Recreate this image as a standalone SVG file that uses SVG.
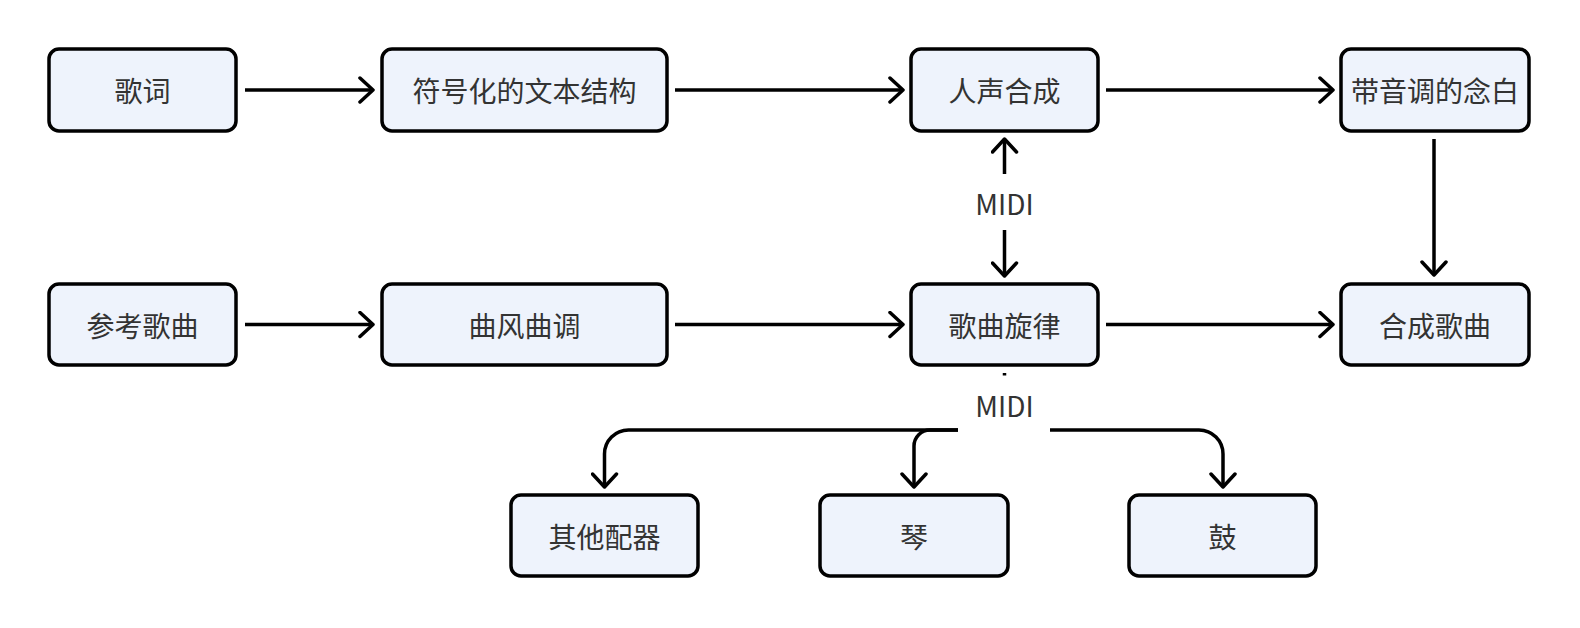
<svg xmlns="http://www.w3.org/2000/svg" width="1580" height="628" viewBox="0 0 1580 628">
<style>
.box{fill:#EEF3FC;stroke:#000;stroke-width:3.5}
.t{font-family:"Noto Sans CJK SC","Noto Sans",sans-serif;font-size:28px;fill:#333;text-anchor:middle;dominant-baseline:central}
.lbl{font-family:"Noto Sans CJK SC","Noto Sans",sans-serif;font-size:28px;fill:#333;text-anchor:middle;dominant-baseline:central}
.c{fill:none;stroke:#000;stroke-width:3.5}
.bg{fill:#fff}
</style>
<defs>
<marker id="ah" viewBox="-16 -14 20 28" markerWidth="20" markerHeight="28" refX="0" refY="0" orient="auto-start-reverse" markerUnits="userSpaceOnUse">
<path d="M-13,-12 L0,0 L-13,12" fill="none" stroke="#000" stroke-width="3.5" stroke-linecap="round" stroke-linejoin="round"/>
</marker>
</defs>
<rect width="1580" height="628" fill="#fff"/>
<g id="connectors">
<path class="c" d="M245,90 H373" marker-end="url(#ah)"/>
<path class="c" d="M675,90 H903" marker-end="url(#ah)"/>
<path class="c" d="M1106,90 H1333" marker-end="url(#ah)"/>
<path class="c" d="M245,324.5 H373" marker-end="url(#ah)"/>
<path class="c" d="M675,324.5 H903" marker-end="url(#ah)"/>
<path class="c" d="M1106,324.5 H1333" marker-end="url(#ah)"/>
<path class="c" d="M1434,139 V275" marker-end="url(#ah)"/>
<path class="c" d="M1004.5,139 V276" marker-start="url(#ah)" marker-end="url(#ah)"/>
<rect class="bg" x="958" y="174" width="92" height="56"/>
<text class="lbl" x="1004.5" y="203">MIDI</text>
<path class="c" d="M1004.5,373 V430 H628.5 A24,24 0 0 0 604.5,454 V487" marker-end="url(#ah)"/>
<path class="c" d="M1004.5,430 H930 A16,16 0 0 0 914,446 V487" marker-end="url(#ah)"/>
<path class="c" d="M1004.5,430 H1199 A24,24 0 0 1 1223,454 V487" marker-end="url(#ah)"/>
<rect class="bg" x="958" y="375.5" width="92" height="60"/>
<text class="lbl" x="1004.5" y="405">MIDI</text>
</g>
<g id="n1"><rect class="box" x="49" y="49" width="187" height="82" rx="10"/><text class="t" x="142.5" y="90">歌词</text></g>
<g id="n2"><rect class="box" x="382" y="49" width="285" height="82" rx="10"/><text class="t" x="524.5" y="90">符号化的文本结构</text></g>
<g id="n3"><rect class="box" x="911" y="49" width="187" height="82" rx="10"/><text class="t" x="1004.5" y="90">人声合成</text></g>
<g id="n4"><rect class="box" x="1341" y="49" width="188" height="82" rx="10"/><text class="t" x="1435" y="90">带音调的念白</text></g>
<g id="n5"><rect class="box" x="49" y="284" width="187" height="81" rx="10"/><text class="t" x="142.5" y="324.5">参考歌曲</text></g>
<g id="n6"><rect class="box" x="382" y="284" width="285" height="81" rx="10"/><text class="t" x="524.5" y="324.5">曲风曲调</text></g>
<g id="n7"><rect class="box" x="911" y="284" width="187" height="81" rx="10"/><text class="t" x="1004.5" y="324.5">歌曲旋律</text></g>
<g id="n8"><rect class="box" x="1341" y="284" width="188" height="81" rx="10"/><text class="t" x="1435" y="324.5">合成歌曲</text></g>
<g id="n9"><rect class="box" x="511" y="495" width="187" height="81" rx="10"/><text class="t" x="604.5" y="535.5">其他配器</text></g>
<g id="n10"><rect class="box" x="820" y="495" width="188" height="81" rx="10"/><text class="t" x="914" y="535.5">琴</text></g>
<g id="n11"><rect class="box" x="1129" y="495" width="187" height="81" rx="10"/><text class="t" x="1222.5" y="535.5">鼓</text></g>
</svg>
